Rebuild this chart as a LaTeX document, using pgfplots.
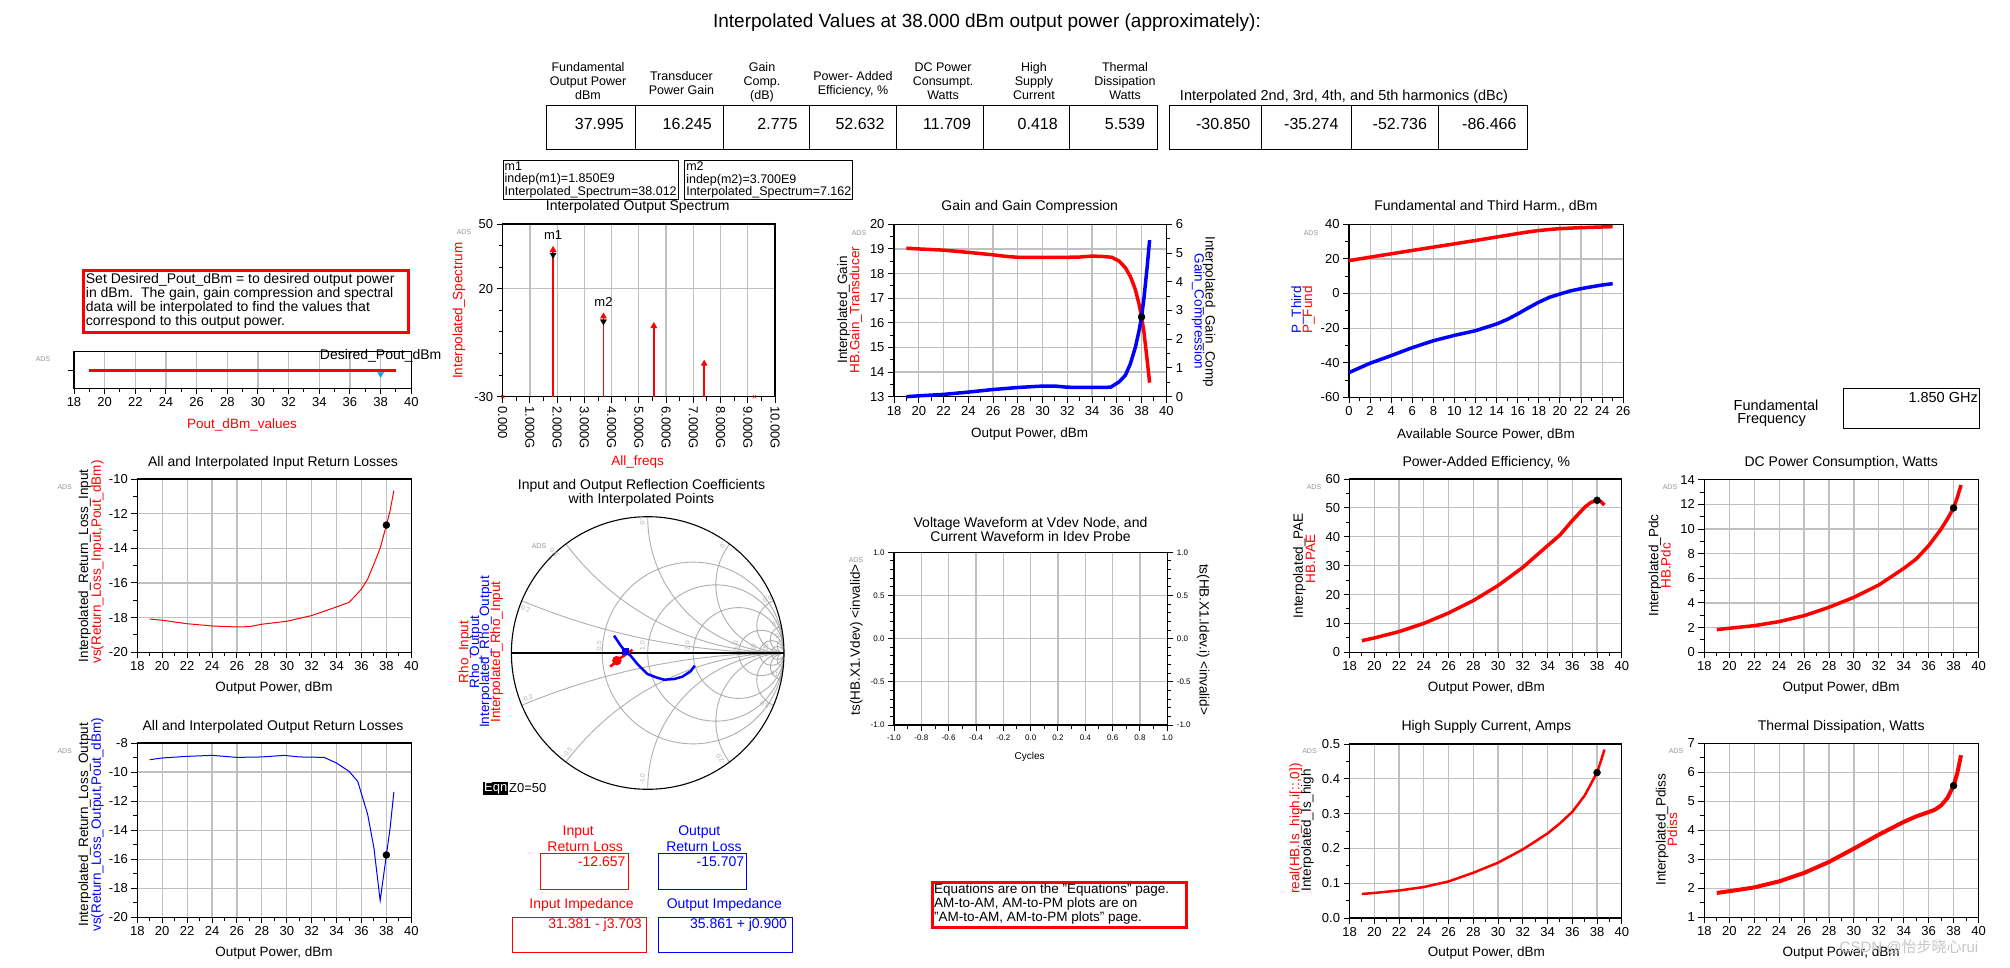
\documentclass[border=0pt]{standalone}
\usepackage{fontspec}
\setmainfont{Liberation Sans}
\newfontfamily\cjk{Noto Sans CJK SC}
\usepackage{pgfplots}
\pgfplotsset{compat=1.18}
\definecolor{adsred}{RGB}{255,0,0}
\definecolor{adsblue}{RGB}{0,0,255}
\definecolor{gridgray}{RGB}{192,192,192}
\definecolor{smithgray}{RGB}{175,175,175}
\definecolor{adsgray}{RGB}{150,150,150}
\newcommand{\fs}[2]{\fontsize{#1pt}{#2pt}\selectfont}
\pgfplotsset{
  ads/.style={
    scale only axis, enlargelimits=false, clip=false,
    axis line style={black, line width=1.2pt},
    every tick/.style={black, line width=1pt},
    tick align=outside, tick pos=left,
    major tick length=6pt, minor tick length=4pt,
    grid=major, major grid style={gridgray, line width=1.2pt},
    tick label style={font=\fs{13}{15}},
    /pgf/number format/assume math mode=true,
    anchor=north west,
  },
  dot/.style={only marks, mark=*, mark size=3.5pt, black},
}
\tikzset{
  lab/.style={font=\fs{13.5}{16}},
  ttl/.style={font=\fs{14}{16}},
  adsm/.style={font=\fs{7}{8}, text=adsgray},
}
\begin{document}
\begin{tikzpicture}[x=1pt,y=-1pt]
\fill[white] (0,0) rectangle (2010,968);
\path[use as bounding box] (0,0) rectangle (2010,968);

% ---------------- Title and table ----------------
\node[font=\fs{19}{22}] at (987,23) {Interpolated Values at 38.000 dBm output power (approximately):};
\draw[line width=1pt] (546,106) rectangle (1157.6,150);
\foreach \xx in {635.8,723,809.5,896,983.2,1069.8} \draw[line width=1pt] (\xx,106) -- (\xx,150);
\draw[line width=1pt] (1169.3,106) rectangle (1527.2,150);
\foreach \xx in {1261.7,1351.5,1438.7} \draw[line width=1pt] (\xx,106) -- (\xx,150);
\begin{scope}[every node/.style={font=\fs{16}{18}, anchor=east}]
\node at (627.4,124) {37.995};
\node at (715.2,124) {16.245};
\node at (801,124) {2.775};
\node at (888,124) {52.632};
\node at (974.5,124) {11.709};
\node at (1061.3,124) {0.418};
\node at (1148.5,124) {5.539};
\node at (1253.9,124) {-30.850};
\node at (1342,124) {-35.274};
\node at (1430.5,124) {-52.736};
\node at (1520,124) {-86.466};
\end{scope}
\begin{scope}[every node/.style={font=\fs{12.5}{14}, align=center, anchor=north}]
\node at (588,59) {Fundamental\\Output Power\\dBm};
\node at (681.4,68) {Transducer\\Power Gain};
\node at (762,59) {Gain\\Comp.\\(dB)};
\node at (853,68) {Power- Added\\Efficiency, \%};
\node at (943,59) {DC Power\\Consumpt.\\Watts};
\node at (1034,59) {High\\Supply\\Current};
\node at (1125,59) {Thermal\\Dissipation\\Watts};
\end{scope}
\node[font=\fs{14.5}{16}] at (1344,96.7) {Interpolated 2nd, 3rd, 4th, and 5th harmonics (dBc)};

% ---------------- Info box and slider ----------------
\draw[adsred, line width=3pt] (83.7,271) rectangle (408,332);
\node[anchor=north west, align=left, inner sep=0pt, font=\fs{14}{14.1}] at (85.7,272.8)
  {Set Desired\_Pout\_dBm = to desired output power\\in dBm.\ \ The gain, gain compression and spectral\\data will be interpolated to find the values that\\correspond to this output power.};

\coordinate (S) at (74,351.7);
\begin{axis}[ads, at={(S)}, width=337.3pt, height=36.6pt,
  xmin=18, xmax=40, ymin=-1, ymax=1,
  xtick={18,20,...,40}, minor x tick num=1, ytick={0}, yticklabels={}, ymajorgrids=false]
\addplot[adsred, line width=3pt] coordinates {(19,0)(39,0)};
\addplot[only marks, mark=triangle*, mark size=3.5pt, mark options={rotate=180, fill=cyan, draw=cyan!70!black, yshift=4pt}] coordinates {(38,0)};
\node[font=\fs{14}{16}] at (axis cs:38,0) [yshift=14pt] {Desired\_Pout\_dBm};
\end{axis}
\node[lab, text=adsred] at (242,425.3) {Pout\_dBm\_values};
\node[adsm] at (43,358.7) {ADS};

% ---------------- Spectrum ----------------
\node[draw, line width=1pt, anchor=north west, align=left, inner sep=1.5pt, font=\fs{12.5}{12.3}] at (502.7,160)
  {m1\\indep(m1)=1.850E9\\Interpolated\_Spectrum=38.012};
\node[draw, line width=1pt, anchor=north west, align=left, inner sep=1.5pt, font=\fs{12.5}{12.3}] at (684.3,160)
  {m2\\indep(m2)=3.700E9\\Interpolated\_Spectrum=7.162};
\node[ttl] at (637.7,207) {Interpolated Output Spectrum};
\coordinate (SP) at (502.7,224);
\begin{axis}[ads, at={(SP)}, width=272.3pt, height=172.7pt,
  xmin=0, xmax=10, ymin=-30, ymax=50,
  xtick={0,...,10}, minor x tick num=1,
  xticklabels={0.000,1.000G,2.000G,3.000G,4.000G,5.000G,6.000G,7.000G,8.000G,9.000G,10.00G},
  xticklabel style={rotate=-90, anchor=west},
  ytick={-30,20,50}, minor ytick={-20,-10,0,10,30,40}]
\addplot[adsred, line width=1.5pt, mark=triangle*, mark indices={2}, mark size=2.5pt] coordinates {(1.85,-30)(1.85,38.012)};
\addplot[adsred, line width=1.5pt, mark=triangle*, mark indices={2}, mark size=2.5pt] coordinates {(3.7,-30)(3.7,7.162)};
\addplot[adsred, line width=1.5pt, mark=triangle*, mark indices={2}, mark size=2.5pt] coordinates {(5.55,-30)(5.55,2.738)};
\addplot[adsred, line width=1.5pt, mark=triangle*, mark indices={2}, mark size=2.5pt] coordinates {(7.4,-30)(7.4,-14.724)};
\addplot[only marks, mark=x, adsred, mark size=2.5pt] coordinates {(0,-30)(9.25,-30)};
\addplot[only marks, mark=triangle*, black, mark size=3.5pt, mark options={rotate=180, yshift=5pt}] coordinates {(1.85,38.012)(3.7,7.162)};
\node[font=\fs{13}{15}] at (axis cs:1.85,38.012) [yshift=15pt] {m1};
\node[font=\fs{13}{15}] at (axis cs:3.7,7.162) [yshift=15pt] {m2};
\end{axis}
\node[lab, text=adsred, rotate=90] at (459,310.7) {Interpolated\_Spectrum};
\node[lab, text=adsred] at (637.7,461.7) {All\_freqs};
\node[adsm] at (464,232) {ADS};

% ---------------- Gain ----------------
\node[ttl] at (1029.7,206.7) {Gain and Gain Compression};
\coordinate (G) at (894,224.3);
\begin{axis}[ads, at={(G)}, width=272.3pt, height=172.4pt,
  xmin=18, xmax=40, ymin=13, ymax=20,
  xtick={18,20,...,40}, ytick={13,...,20}, minor x tick num=1, minor y tick num=1]
\addplot[adsred, line width=3.5pt] coordinates {(19,19.03)(20,19.0)(22,18.95)(24,18.86)(26,18.76)(27,18.70)(28,18.66)(30,18.66)(32,18.66)(33,18.67)(34,18.71)(35,18.69)(35.6,18.66)(36.2,18.50)(36.7,18.23)(37.1,17.88)(37.5,17.35)(37.8,16.75)(38.0,16.245)(38.2,15.6)(38.45,14.5)(38.65,13.57)};
\end{axis}
\begin{axis}[ads, at={(G)}, width=272.3pt, height=172.4pt,
  xmin=18, xmax=40, ymin=0, ymax=6, axis x line=none, axis y line*=right,
  ytick pos=right, tick align=outside, grid=none, ytick={0,...,6}, minor y tick num=1]
\addplot[adsblue, line width=3.5pt] coordinates {(19,0)(20,0.03)(22,0.08)(24,0.16)(26,0.25)(28,0.32)(30,0.37)(31,0.37)(32,0.33)(34,0.32)(35.5,0.33)(36.2,0.52)(36.7,0.75)(37.1,1.15)(37.5,1.72)(37.8,2.3)(38.0,2.775)(38.2,3.45)(38.45,4.5)(38.65,5.45)};
\addplot[dot] coordinates {(38,2.775)};
\end{axis}
\node[lab, rotate=90] at (843.7,310) {Interpolated\_Gain};
\node[lab, rotate=90, text=adsred] at (855.7,310) {HB.Gain\_Transducer};
\node[lab, rotate=-90] at (1209,311.7) {Interpolated\_Gain\_Comp};
\node[lab, rotate=-90, text=adsblue] at (1198,311.7) {Gain\_Compression};
\node[lab] at (1029.7,434) {Output Power, dBm};
\node[adsm] at (859,232.7) {ADS};

% ---------------- Fundamental and third ----------------
\node[ttl] at (1486,206.7) {Fundamental and Third Harm., dBm};
\coordinate (F) at (1349,224.3);
\begin{axis}[ads, at={(F)}, width=274.2pt, height=173pt,
  xmin=0, xmax=26, ymin=-60, ymax=40,
  xtick={0,2,...,26}, ytick={-60,-40,...,40}, minor x tick num=1, minor y tick num=1]
\addplot[adsred, line width=3.5pt] coordinates {(0,19.0)(2,21.0)(4,22.95)(6,24.9)(8,26.8)(10,28.7)(12,30.65)(14,32.65)(16,34.65)(17,35.6)(18,36.4)(19,37.0)(20,37.5)(21,37.8)(22,38.05)(23,38.25)(24,38.45)(25,38.65)};
\addplot[adsblue, line width=3.5pt] coordinates {(0,-45.7)(2,-40.3)(4,-35.9)(6,-31.3)(8,-27.3)(10,-24.2)(12,-21.5)(14,-17.6)(15,-15)(16,-11.8)(17,-8.3)(18,-5.0)(19,-2.2)(20,-0.3)(21,1.5)(22,2.8)(23,3.9)(24,4.9)(25,5.7)};
\end{axis}
\node[lab, rotate=90, text=adsblue] at (1297.5,310) {P\_Third};
\node[lab, rotate=90, text=adsred] at (1308.5,310) {P\_Fund};
\node[lab] at (1486,434) {Available Source Power, dBm};
\node[adsm] at (1311,232.7) {ADS};

% Fundamental frequency box
\node[font=\fs{14.5}{16}] at (1776,405) {Fundamental};
\node[font=\fs{14.5}{16}] at (1771.6,420) {Frequency};
\draw[line width=1pt] (1843.6,388.7) rectangle (1979.4,428.3);
\node[font=\fs{14.5}{16}, anchor=east, inner sep=1pt] at (1979,398) {1.850 GHz};

% ---------------- Input return loss ----------------
\node[ttl] at (273,463) {All and Interpolated Input Return Losses};
\coordinate (IR) at (137.3,479);
\begin{axis}[ads, at={(IR)}, width=274pt, height=173.3pt,
  xmin=18, xmax=40, ymin=-20, ymax=-10,
  xtick={18,20,...,40}, ytick={-20,-18,...,-10}, minor x tick num=1, minor y tick num=1]
\addplot[adsred, line width=1pt] coordinates {(19,-18.08)(20,-18.15)(22,-18.35)(24,-18.48)(26,-18.54)(27,-18.52)(28,-18.38)(30,-18.21)(32,-17.88)(34,-17.38)(35,-17.12)(35.6,-16.67)(36,-16.35)(36.5,-15.77)(37,-14.9)(37.5,-14.0)(38,-12.657)(38.3,-11.83)(38.6,-10.67)};
\addplot[dot] coordinates {(38,-12.657)};
\end{axis}
\node[lab, rotate=90] at (84.7,565.7) {Interpolated\_Return\_Loss\_Input};
\node[lab, rotate=90, text=adsred] at (97.3,562) {vs(Return\_Loss\_Input,Pout\_dBm)};
\node[lab] at (274,688) {Output Power, dBm};
\node[adsm] at (64.7,487) {ADS};

% ---------------- Output return loss ----------------
\node[ttl] at (273,727) {All and Interpolated Output Return Losses};
\coordinate (OR) at (137.3,743);
\begin{axis}[ads, at={(OR)}, width=274pt, height=174.3pt,
  xmin=18, xmax=40, ymin=-20, ymax=-8,
  xtick={18,20,...,40}, ytick={-20,-18,...,-8}, minor x tick num=1, minor y tick num=1]
\addplot[adsblue, line width=1pt] coordinates {(19,-9.15)(20,-9.03)(22,-8.92)(24,-8.85)(26,-8.99)(28,-8.96)(29.8,-8.85)(31,-8.96)(33,-8.99)(34,-9.38)(35,-9.95)(35.7,-10.64)(36.5,-12.93)(37,-15.23)(37.5,-18.85)(38,-15.707)(38.3,-13.85)(38.6,-11.37)};
\addplot[dot] coordinates {(38,-15.707)};
\end{axis}
\node[lab, rotate=90] at (84.7,824.7) {Interpolated\_Return\_Loss\_Output};
\node[lab, rotate=90, text=adsblue] at (97.3,824.7) {vs(Return\_Loss\_Output,Pout\_dBm)};
\node[lab] at (274,953) {Output Power, dBm};
\node[adsm] at (64.7,751.3) {ADS};

% ---------------- Smith chart ----------------
\node[ttl, align=center, font=\fs{14}{14}] at (641.5,493) {Input and Output Reflection Coefficients\\with Interpolated Points};
\begin{scope}[shift={(647.7,653)}, x=136.3pt, y=136.3pt]
  \begin{scope}
    \clip (0,0) circle[radius=1];
    \draw[smithgray, line width=0.9pt]
      (0.3333,0) circle[radius=0.6667]
      (0.5,0) circle[radius=0.5]
      (0.6667,0) circle[radius=0.3333]
      (0.8333,0) circle[radius=0.1667]
      (0.9091,0) circle[radius=0.0909]
      (0.9524,0) circle[radius=0.0476]
      (1,5) circle[radius=5] (1,-5) circle[radius=5]
      (1,2) circle[radius=2] (1,-2) circle[radius=2]
      (1,1) circle[radius=1] (1,-1) circle[radius=1]
      (1,0.5) circle[radius=0.5] (1,-0.5) circle[radius=0.5]
      (1,0.2) circle[radius=0.2] (1,-0.2) circle[radius=0.2]
      (1,0.1) circle[radius=0.1] (1,-0.1) circle[radius=0.1]
      (1,0.05) circle[radius=0.05] (1,-0.05) circle[radius=0.05];
  \end{scope}
  \draw[black, line width=1.1pt] (0,0) circle[radius=1];
  \draw[black, line width=1.1pt] (-1,0) -- (1,0);
  \begin{scope}[every node/.style={font=\fs{6.5}{7}, text=smithgray, inner sep=0pt}]
    \node[rotate=90] at (-0.357,0.054) {0.5};
    \node[rotate=90] at (-0.039,0.054) {1.0};
    \node[rotate=90] at (0.291,0.054) {2.0};
    \node[rotate=90] at (0.645,0.054) {5.0};
    \node[rotate=90] at (0.775,0.042) {10};
    \node[rotate=90] at (0.866,0.042) {20};
    \node[rotate=-19.8] at (-0.895,0.323) {0.2};
    \node[rotate=-47.1] at (-0.687,0.738) {0.5};
    \node[rotate=-87.7] at (-0.039,0.971) {1.0};
    \node[rotate=-125] at (0.56,0.8) {2.0};
    \node[rotate=-155.7] at (0.878,0.396) {5.0};
    \node[rotate=-167.2] at (0.939,0.213) {10};
    \node[rotate=-172.5] at (0.963,0.127) {20};
    \node[rotate=20.5] at (-0.883,-0.330) {-0.2};
    \node[rotate=51.1] at (-0.589,-0.729) {-0.5};
    \node[rotate=87.6] at (-0.039,-0.924) {-1.0};
    \node[rotate=124.5] at (0.535,-0.778) {-2.0};
    \node[rotate=156] at (0.866,-0.386) {-5.0};
    \node[rotate=170.7] at (0.939,-0.154) {-10};
  \end{scope}
\end{scope}
\coordinate (SC) at (647.7,653);
\begin{axis}[at={(SC)}, anchor=center, hide axis, x=136.3pt, y=136.3pt,
  xmin=-1, xmax=1, ymin=-1, ymax=1, clip=false]
\addplot[adsblue, line width=2.5pt] coordinates {(-0.247,0.127)(-0.198,0.054)(-0.165,0.012)(-0.125,-0.02)(-0.076,-0.081)(-0.002,-0.154)(0.059,-0.178)(0.12,-0.196)(0.193,-0.191)(0.254,-0.174)(0.315,-0.134)(0.345,-0.093)};
\addplot[only marks, mark=square*, adsblue, mark size=3pt] coordinates {(-0.1648,0.0122)};
\addplot[adsred, line width=2.5pt] coordinates {(-0.276,-0.100)(-0.25,-0.08)(-0.226,-0.056)(-0.19,-0.03)(-0.15,-0.005)(-0.112,0.024)};
\addplot[only marks, mark=*, adsred, mark size=4.5pt] coordinates {(-0.2263,-0.0558)};
\end{axis}
\node[lab, rotate=90, text=adsred] at (465,652) {Rho\_Input};
\node[lab, rotate=90, text=adsblue] at (475.7,652) {Rho\_Output};
\node[lab, rotate=90, text=adsblue] at (485.7,652) {Interpolated\_Rho\_Output};
\node[lab, rotate=90, text=adsred] at (496.7,652) {Interpolated\_Rho\_Input};
\node[adsm] at (539,545.7) {ADS};
\node[fill=black, text=white, font=\fs{13}{15}, inner sep=1pt] at (495.7,788.5) {Eqn};
\node[anchor=west, font=\fs{13}{15}, inner sep=0pt] at (509,788.5) {Z0=50};

% ---------------- Voltage waveform (empty) ----------------
\node[ttl, align=center, font=\fs{14}{14}] at (1030.5,529) {Voltage Waveform at Vdev Node, and\\Current Waveform in Idev Probe};
\coordinate (V) at (894,552.3);
\begin{axis}[ads, at={(V)}, width=273.3pt, height=172.7pt,
  xmin=-1, xmax=1, ymin=-1, ymax=1,
  xtick={-1,-0.8,...,1.01}, ytick={-1,-0.5,0,0.5,1}, minor x tick num=1, minor y tick num=4,
  tick label style={font=\fs{8}{9}},
  xticklabel style={/pgf/number format/fixed, /pgf/number format/fixed zerofill, /pgf/number format/precision=1},
  yticklabel style={/pgf/number format/fixed, /pgf/number format/fixed zerofill, /pgf/number format/precision=1}]
\addplot[draw=none] coordinates {(0,0)};
\end{axis}
\begin{axis}[ads, at={(V)}, width=273.3pt, height=172.7pt,
  xmin=-1, xmax=1, ymin=-1, ymax=1, axis x line=none, axis y line*=right,
  ytick pos=right, tick align=outside, grid=none,
  ytick={-1,-0.5,0,0.5,1}, minor y tick num=4,
  tick label style={font=\fs{8}{9}},
  yticklabel style={/pgf/number format/fixed, /pgf/number format/fixed zerofill, /pgf/number format/precision=1}]
\addplot[draw=none] coordinates {(0,0)};
\end{axis}
\node[lab, rotate=90] at (856.3,639.7) {ts(HB.X1.Vdev) <invalid>};
\node[lab, rotate=-90] at (1203,639.7) {ts(HB.X1.Idev.i) <invalid>};
\node[font=\fs{10}{12}] at (1029.7,757) {Cycles};
\node[adsm] at (856,560) {ADS};

% ---------------- PAE ----------------
\node[ttl] at (1486.3,463) {Power-Added Efficiency, \%};
\coordinate (P) at (1349.5,479);
\begin{axis}[ads, at={(P)}, width=272.3pt, height=173.3pt,
  xmin=18, xmax=40, ymin=0, ymax=60,
  xtick={18,20,...,40}, ytick={0,10,...,60}, minor x tick num=1, minor y tick num=1]
\addplot[adsred, line width=3.5pt] coordinates {(19,4.04)(20,4.96)(22,7.15)(24,10.0)(26,13.6)(28,17.9)(30,23.1)(32,29.4)(34,36.9)(35,40.6)(36,45.6)(37,50.2)(37.5,51.9)(38,52.632)(38.3,52.2)(38.6,51.0)};
\addplot[dot] coordinates {(38,52.632)};
\end{axis}
\node[lab, rotate=90] at (1299.4,565.7) {Interpolated\_PAE};
\node[lab, rotate=90, text=adsred] at (1310.5,559) {HB.PAE};
\node[lab] at (1486.3,688.3) {Output Power, dBm};
\node[adsm] at (1314,487) {ADS};

% ---------------- DC power ----------------
\node[ttl] at (1841.2,463) {DC Power Consumption, Watts};
\coordinate (D) at (1704.4,479.7);
\begin{axis}[ads, at={(D)}, width=274.1pt, height=172.6pt,
  xmin=18, xmax=40, ymin=0, ymax=14,
  xtick={18,20,...,40}, ytick={0,2,...,14}, minor x tick num=1, minor y tick num=1]
\addplot[adsred, line width=3.5pt] coordinates {(19,1.84)(20,1.95)(22,2.16)(24,2.49)(26,2.97)(28,3.65)(30,4.46)(32,5.46)(34,6.81)(35,7.57)(36,8.65)(37,10.0)(37.5,10.81)(38,11.709)(38.3,12.57)(38.6,13.57)};
\addplot[dot] coordinates {(38,11.709)};
\end{axis}
\node[lab, rotate=90] at (1654.8,565.7) {Interpolated\_Pdc};
\node[lab, rotate=90, text=adsred] at (1665.8,565.7) {HB.Pdc};
\node[lab] at (1841.2,688.3) {Output Power, dBm};
\node[adsm] at (1670,487) {ADS};

% ---------------- High supply current ----------------
\node[ttl] at (1486.3,727.3) {High Supply Current, Amps};
\coordinate (H) at (1349.5,744);
\begin{axis}[ads, at={(H)}, width=272.3pt, height=174pt,
  xmin=18, xmax=40, ymin=0, ymax=0.5,
  xtick={18,20,...,40}, ytick={0,0.1,0.2,0.3,0.4,0.5}, minor x tick num=1, minor y tick num=1,
  yticklabel style={/pgf/number format/fixed, /pgf/number format/fixed zerofill, /pgf/number format/precision=1}]
\addplot[adsred, line width=2.5pt] coordinates {(19,0.069)(20,0.072)(22,0.079)(24,0.089)(26,0.105)(28,0.13)(30,0.159)(32,0.197)(34,0.243)(35,0.272)(36,0.305)(37,0.352)(38,0.418)(38.3,0.45)(38.6,0.484)};
\addplot[dot] coordinates {(38,0.418)};
\end{axis}
\node[lab, rotate=90, text=adsred] at (1295.8,828.7) {real(HB.Is\_high.i[::,0])};
\node[lab, rotate=90] at (1307.3,830.3) {Interpolated\_Is\_high};
\node[lab] at (1486.3,953) {Output Power, dBm};
\node[adsm] at (1309.5,750.7) {ADS};

% ---------------- Thermal dissipation ----------------
\node[ttl] at (1841.2,727.3) {Thermal Dissipation, Watts};
\coordinate (T) at (1704.4,743.3);
\begin{axis}[ads, at={(T)}, width=274.1pt, height=174pt,
  xmin=18, xmax=40, ymin=1, ymax=7,
  xtick={18,20,...,40}, ytick={1,...,7}, minor x tick num=1, minor y tick num=1]
\addplot[adsred, line width=4pt] coordinates {(19,1.84)(20,1.9)(22,2.03)(24,2.24)(26,2.53)(28,2.91)(30,3.37)(32,3.85)(34,4.29)(35,4.48)(36,4.63)(36.5,4.71)(37,4.86)(37.5,5.11)(38,5.539)(38.3,5.98)(38.6,6.59)};
\addplot[dot] coordinates {(38,5.539)};
\end{axis}
\node[lab, rotate=90] at (1662.2,829.7) {Interpolated\_Pdiss};
\node[lab, rotate=90, text=adsred] at (1672.3,829.7) {Pdiss};
\node[lab] at (1841.2,953) {Output Power, dBm};
\node[adsm] at (1676,750.7) {ADS};

% ---------------- Bottom boxes ----------------
\begin{scope}[every node/.style={font=\fs{14}{16}}]
\node[text=adsred] at (578.2,832) {Input};
\node[text=adsred] at (585.2,846.3) {Return Loss};
\node[text=adsblue] at (699.3,832) {Output};
\node[text=adsblue] at (704,846.3) {Return Loss};
\node[text=adsred, anchor=east, inner sep=0pt] at (625.7,862) {-12.657};
\node[text=adsblue, anchor=east, inner sep=0pt] at (744.4,862) {-15.707};
\node[text=adsred] at (581.5,905.3) {Input Impedance};
\node[text=adsblue] at (724.4,905.3) {Output Impedance};
\node[text=adsred, anchor=east, inner sep=0pt] at (642,925.3) {31.381 - j3.703};
\node[text=adsblue, anchor=east, inner sep=0pt] at (787.2,925.3) {35.861 + j0.900};
\end{scope}
\draw[adsred, line width=1pt] (540.5,853.3) rectangle (628.5,889.3);
\draw[adsblue, line width=1pt] (658.3,853.3) rectangle (746.3,889.3);
\draw[adsred, line width=1pt] (512.6,917.3) rectangle (646.6,952.3);
\draw[adsblue, line width=1pt] (658.3,917.3) rectangle (792.4,952.3);

\draw[adsred, line width=3pt] (932,882) rectangle (1186.7,927.3);
\node[anchor=north west, align=left, inner sep=0pt, font=\fs{13.5}{13.7}] at (934,884)
  {Equations are on the "Equations" page.\\AM-to-AM, AM-to-PM plots are on\\"AM-to-AM, AM-to-PM plots" page.};

% watermark
\node[font=\fs{15}{17}, text=gray!45] at (1909,947) {CSDN @{\cjk 怡步晓心}rui};
\end{tikzpicture}
\end{document}
